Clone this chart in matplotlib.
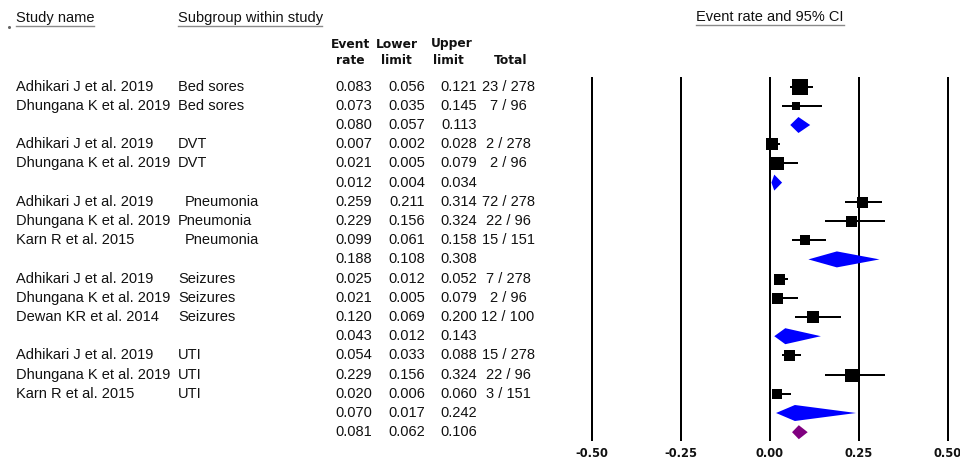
import matplotlib
matplotlib.use("Agg")
import matplotlib.pyplot as plt
from matplotlib.patches import Polygon

# ---- data ---------------------------------------------------------------
study = ["Adhikari J et al. 2019", "Dhungana K et al. 2019",
         "Adhikari J et al. 2019", "Dhungana K et al. 2019",
         "Adhikari J et al. 2019", "Dhungana K et al. 2019", "Karn R et al. 2015",
         "Adhikari J et al. 2019", "Dhungana K et al. 2019", "Dewan KR et al. 2014",
         "Adhikari J et al. 2019", "Dhungana K et al. 2019", "Karn R et al. 2015"]
subgroup = ["Bed sores", "Bed sores",
            "DVT", "DVT",
            "Pneumonia", "Pneumonia", "Pneumonia",
            "Seizures", "Seizures", "Seizures",
            "UTI", "UTI", "UTI"]
rate = [0.083, 0.073, 0.007, 0.021, 0.259, 0.229, 0.099,
        0.025, 0.021, 0.120, 0.054, 0.229, 0.020]
lower = [0.056, 0.035, 0.002, 0.005, 0.211, 0.156, 0.061,
         0.012, 0.005, 0.069, 0.033, 0.156, 0.006]
upper = [0.121, 0.145, 0.028, 0.079, 0.314, 0.324, 0.158,
         0.052, 0.079, 0.200, 0.088, 0.324, 0.060]
events = [23, 7, 2, 2, 72, 22, 15, 7, 2, 12, 15, 22, 3]
totals = [278, 96, 278, 96, 278, 96, 151, 278, 96, 100, 278, 96, 151]

group_names = ["Bed sores", "DVT", "Pneumonia", "Seizures", "UTI"]
group_rate = [0.080, 0.012, 0.188, 0.043, 0.070]
group_lower = [0.057, 0.004, 0.108, 0.012, 0.017]
group_upper = [0.113, 0.034, 0.308, 0.143, 0.242]

overall_rate = 0.081
overall_lower = 0.062
overall_upper = 0.106

axis_ticks = [-0.50, -0.25, 0.00, 0.25, 0.50]
axis_labels = ["-0.50", "-0.25", "0.00", "0.25", "0.50"]

# ---- styling ------------------------------------------------------------
box_px = [16, 8, 12, 13, 11, 11, 10, 11, 11, 12, 11, 13, 10]   # weight boxes
sub_x = [178, 178, 178, 178, 185, 178, 185, 178, 178, 178, 178, 178, 178]
W, H = 960, 461
ROW0, ROWH = 86.6, 19.2
ZERO_PX, UNIT_PX = 770.0, 355.6
PT = 0.72  # points per pixel at 100 dpi

TXT = dict(family=["Liberation Sans", "DejaVu Sans"], fontsize=10.5, color="#111111")
HDR = dict(family=["DejaVu Sans"], fontsize=8.8, fontweight="bold", color="#111111")

fig = plt.figure(figsize=(W / 100, H / 100), dpi=100)
fig.patch.set_facecolor("white")

tab = fig.add_axes([0, 0, 1, 1])
tab.set_xlim(0, W)
tab.set_ylim(H, 0)
tab.axis("off")

fa = fig.add_axes([0, 0, 1, 1])
fa.set_xlim(-ZERO_PX / UNIT_PX, (W - ZERO_PX) / UNIT_PX)
fa.set_ylim(H, 0)
fa.axis("off")
fa.patch.set_alpha(0)

# ---- header -------------------------------------------------------------
tab.plot([9], [27], marker="o", ms=1.2, color="#666666")
for x0, x1, y, txt in [(16, 94, 18, "Study name"),
                       (178, 322, 18, "Subgroup within study")]:
    tab.text(x0, y, txt, ha="left", va="center", **TXT)
    tab.plot([x0, x1], [26.5, 26.5], color="#8a8a8a", lw=1.0)
tab.text(770, 17, "Event rate and 95% CI", ha="center", va="center", **TXT)
tab.plot([696, 844], [25.5, 25.5], color="#8a8a8a", lw=1.0)

for x, y, txt in [(350, 44, "Event"), (350, 60, "rate"),
                  (397, 44, "Lower"), (396, 60, "limit"),
                  (452, 44, "Upper"), (448, 60, "limit"),
                  (511, 60, "Total")]:
    tab.text(x, y, txt, ha="center", va="center", **HDR)

# ---- rows ---------------------------------------------------------------
def row_y(i):
    return ROW0 + ROWH * i

lw = 2 * PT
row = 0
k = 0
for g, gname in enumerate(group_names):
    while k < len(study) and subgroup[k] == gname:
        y = row_y(row)
        tab.text(16, y, study[k], ha="left", va="center", **TXT)
        tab.text(sub_x[k], y, subgroup[k], ha="left", va="center", **TXT)
        tab.text(372, y, f"{rate[k]:.3f}", ha="right", va="center", **TXT)
        tab.text(425, y, f"{lower[k]:.3f}", ha="right", va="center", **TXT)
        tab.text(477, y, f"{upper[k]:.3f}", ha="right", va="center", **TXT)
        tab.text(508, y, f"{events[k]} / {totals[k]}", ha="center", va="center", **TXT)
        fa.hlines(y, lower[k], upper[k], color="black", lw=lw, zorder=3)
        fa.plot([rate[k]], [y], marker="s", ms=box_px[k] * PT, color="black",
                mec="black", mew=0, zorder=4)
        row += 1
        k += 1
    y = row_y(row)
    tab.text(372, y, f"{group_rate[g]:.3f}", ha="right", va="center", **TXT)
    tab.text(425, y, f"{group_lower[g]:.3f}", ha="right", va="center", **TXT)
    tab.text(477, y, f"{group_upper[g]:.3f}", ha="right", va="center", **TXT)
    fa.add_patch(Polygon([(group_lower[g], y), (group_rate[g], y - 8),
                          (group_upper[g], y), (group_rate[g], y + 8)],
                         closed=True, facecolor="#0000ff", edgecolor="none", zorder=4))
    row += 1

y = row_y(row)
tab.text(372, y, f"{overall_rate:.3f}", ha="right", va="center", **TXT)
tab.text(425, y, f"{overall_lower:.3f}", ha="right", va="center", **TXT)
tab.text(477, y, f"{overall_upper:.3f}", ha="right", va="center", **TXT)
fa.add_patch(Polygon([(overall_lower, y), (overall_rate, y - 7),
                      (overall_upper, y), (overall_rate, y + 7)],
                     closed=True, facecolor="#800080", edgecolor="none", zorder=4))

# ---- axis lines and tick labels ----------------------------------------
fa.vlines(axis_ticks, 77, 441, color="black", lw=lw, zorder=2)
for t, lab in zip(axis_ticks, axis_labels):
    fa.text(t, 453, lab, ha="center", va="center", clip_on=False,
            family=["DejaVu Sans"], fontsize=8.3, fontweight="bold", color="#111111")

fig.savefig("out.png", dpi=100, facecolor="white")
